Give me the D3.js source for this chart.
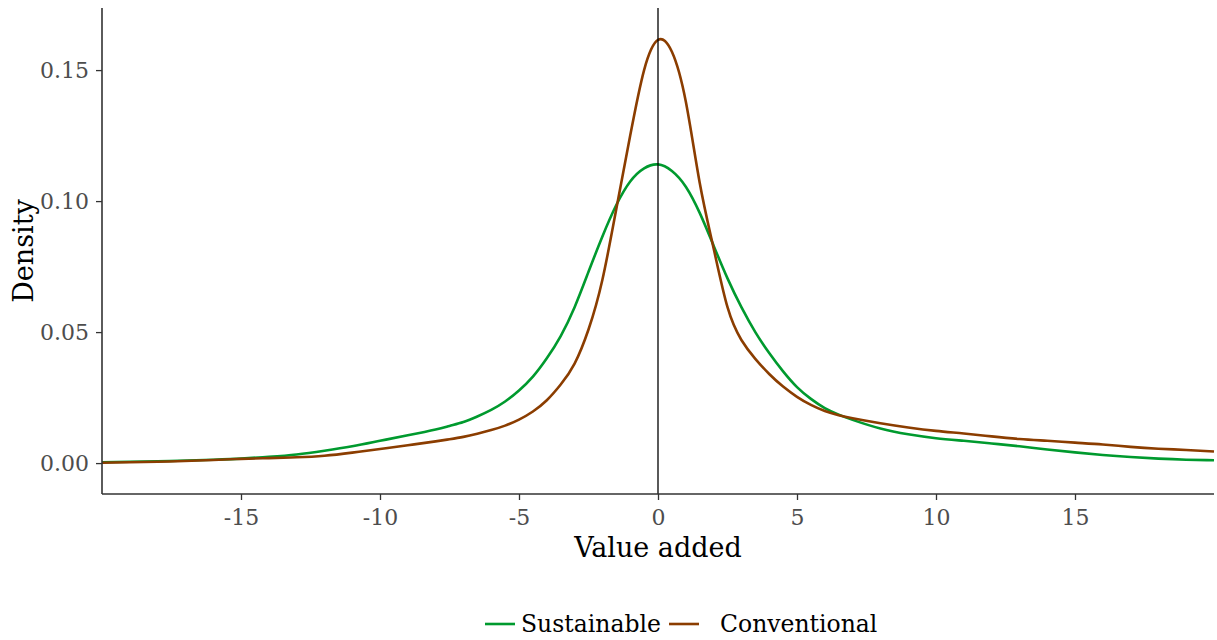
<!DOCTYPE html>
<html>
<head>
<meta charset="utf-8">
<script src="https://cdn.jsdelivr.net/npm/d3@7"></script>
<style>
  body { margin: 0; background: #fff; }
  svg text { font-family: "DejaVu Serif", serif; }
</style>
</head>
<body>
<svg id="chart" width="1217" height="640"></svg>
<script>
// density estimates
var xGrid = [-20, -18, -16, -15, -14, -13, -12, -11, -10, -9, -8, -7.5, -7, -6.5, -6, -5.5, -5, -4.5, -4, -3.5, -3, -2.5, -2, -1.5, -1, -0.5, 0, 0.5, 1, 1.5, 2, 2.5, 3, 3.5, 4, 4.5, 5, 5.5, 6, 6.5, 7, 8, 9, 10, 11, 12, 13, 14, 15, 16, 17, 18, 19, 20]
var sustainable = [0.0003, 0.0007, 0.0013, 0.0017, 0.0024, 0.0033, 0.0047, 0.0064, 0.0085, 0.0106, 0.0128, 0.0142, 0.0157, 0.0178, 0.0203, 0.0235, 0.0277, 0.0330, 0.0400, 0.0485, 0.0595, 0.0730, 0.0865, 0.0985, 0.1075, 0.1125, 0.1140, 0.1115, 0.1055, 0.0955, 0.0830, 0.0705, 0.0595, 0.0500, 0.0420, 0.0350, 0.0290, 0.0245, 0.0210, 0.0185, 0.0165, 0.0132, 0.0110, 0.0095, 0.0085, 0.0075, 0.0064, 0.0052, 0.0041, 0.0031, 0.0023, 0.0017, 0.0013, 0.0011]
var conventional = [0.0001, 0.0005, 0.0012, 0.0016, 0.0019, 0.0022, 0.0028, 0.0040, 0.0054, 0.0068, 0.0083, 0.0091, 0.0100, 0.0112, 0.0126, 0.0143, 0.0166, 0.0197, 0.0240, 0.0300, 0.0380, 0.0510, 0.0700, 0.0970, 0.1250, 0.1500, 0.1615, 0.1570, 0.1380, 0.1070, 0.0820, 0.0595, 0.0470, 0.0398, 0.0340, 0.0292, 0.0253, 0.0222, 0.0199, 0.0183, 0.0171, 0.0152, 0.0136, 0.0123, 0.0113, 0.0102, 0.0092, 0.0085, 0.0078, 0.0071, 0.0062, 0.0055, 0.0050, 0.0044]
var seriesNames = ['Sustainable', 'Conventional']
var seriesColors = ['#009a2e', '#8b3d00']
var xTicks = [-15, -10, -5, 0, 5, 10, 15]
var yTicks = [0, 0.05, 0.10, 0.15]

var svg = d3.select('#chart')
var margin = { left: 102, right: 3, top: 8, bottom: 146 }
var width = 1217 - margin.left - margin.right
var height = 640 - margin.top - margin.bottom

var x = d3.scaleLinear().domain([-20, 20]).range([0, width])
var y = d3.scaleLinear().domain([-0.0118, 0.1737]).range([height, 0])

var g = svg.append('g').attr('transform', 'translate(' + margin.left + ',' + margin.top + ')')

var series = [sustainable, conventional].map(function (vals, i) {
  return { name: seriesNames[i], color: seriesColors[i], values: vals.map(function (v, j) { return [xGrid[j], v] }) }
})

var line = d3.line()
  .x(function (d) { return x(d[0]) })
  .y(function (d) { return y(d[1]) })
  .curve(d3.curveNatural)

g.selectAll('.dens')
  .data(series)
  .enter()
  .append('path')
  .attr('class', 'dens')
  .attr('fill', 'none')
  .attr('stroke', function (d) { return d.color })
  .attr('stroke-width', 2.6)
  .attr('d', function (d) { return line(d.values) })

// zero reference line
g.append('line')
  .attr('x1', x(0)).attr('x2', x(0))
  .attr('y1', 0).attr('y2', height)
  .attr('stroke', '#000')
  .attr('stroke-width', 1.3)

var xAxis = g.append('g')
  .attr('transform', 'translate(0,' + height + ')')
  .call(d3.axisBottom(x).tickValues(xTicks).tickSize(6).tickPadding(5).tickFormat(function (d) { return String(d) }))
var yAxis = g.append('g')
  .call(d3.axisLeft(y).tickValues(yTicks).tickSize(6).tickPadding(7).tickFormat(d3.format('.2f')))

;[xAxis, yAxis].forEach(function (a) {
  a.select('.domain').attr('stroke', '#333').attr('stroke-width', 1.6)
    .attr('d', a === xAxis ? 'M0,0H' + width : 'M0,0V' + height)
  a.selectAll('.tick line').attr('stroke', '#333').attr('stroke-width', 1.3)
  a.selectAll('.tick text').attr('fill', '#4d4d4d').style('font-size', '22px').style('font-family', '"DejaVu Serif", serif')
})
xAxis.selectAll('.tick text').attr('dy', '0.9em')

svg.append('text')
  .attr('x', margin.left + x(0))
  .attr('y', 557)
  .attr('text-anchor', 'middle')
  .style('font-size', '27px')
  .text('Value added')

svg.append('text')
  .attr('transform', 'translate(33,' + (margin.top + height / 2) + ') rotate(-90)')
  .attr('text-anchor', 'middle')
  .style('font-size', '27px')
  .text('Density')

// legend
var legend = svg.append('g').attr('transform', 'translate(485,624)')
var offsets = [0, 184]
series.forEach(function (s, i) {
  var lg = legend.append('g').attr('transform', 'translate(' + offsets[i] + ',0)')
  lg.append('line').attr('x1', 0).attr('x2', 30).attr('y1', 0).attr('y2', 0)
    .attr('stroke', s.color).attr('stroke-width', 2.6)
  lg.append('text').attr('x', i === 0 ? 36 : 51).attr('y', 8)
    .style('font-size', '23.5px').text(s.name)
})
</script>
</body>
</html>
